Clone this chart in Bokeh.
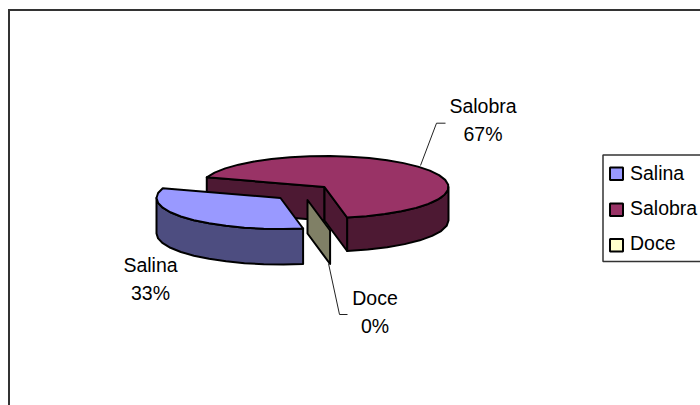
import math
from bokeh.plotting import figure
from bokeh.models import Range1d
from bokeh.core.properties import value
from bokeh.embed import file_html
from bokeh.resources import INLINE

categories = ["Salina", "Salobra", "Doce"]
shares = [33, 67, 0]
top_colors = ["#9999FF", "#993366", "#FFFFCC"]
side_colors = ["#4D4D80", "#4D1933", "#808066"]

FONT = value("Liberation Sans")
SIZE = value("19.5px")
TEXT_SHIFT = -7.0
CX, CY, A, B, DEPTH = 324, 186.5, 124, 31, 33.5
START = 161.7  # parametric angle where Salobra starts, going clockwise
OFFSETS = {"Salina": (-44, 11), "Salobra": (0, 0), "Doce": (-17, 13)}
SALINA_DEPTH = 35.5

p = figure(width=700, height=405, output_backend="svg", toolbar_location=None,
           x_range=Range1d(0, 700), y_range=Range1d(405, 0), min_border=0,
           outline_line_color=None, x_axis_type=None, y_axis_type=None)
p.grid.visible = False

def rim(t, off, dy=0.0):
    r = math.radians(t)
    return CX + off[0] + A * math.cos(r), CY + off[1] - B * math.sin(r) + dy

def arc(t1, t2, off, dy=0.0, step=9.0):
    n = max(1, int(abs(t2 - t1) / step))
    return [rim(t1 + (t2 - t1) * i / n, off, dy) for i in range(n + 1)]

def poly(pts, color):
    p.patch([q[0] for q in pts], [q[1] for q in pts], fill_color=color,
            line_color="#000000", line_width=2, line_join="round")

# angular extents from the shares
salobra_start = START
salobra_end = salobra_start - 3.6 * shares[1]
doce_end = salobra_end - 3.6 * shares[2]
salina_end = doce_end - 3.6 * shares[0]

# Salobra
off = OFFSETS["Salobra"]
apex = (CX + off[0], CY + off[1])
front = arc(0, salobra_end, off)
poly(front + [(x, y + DEPTH) for x, y in reversed(front)], side_colors[1])
a0 = rim(salobra_start, off)
poly([a0, apex, (apex[0], apex[1] + DEPTH), (a0[0], a0[1] + DEPTH)], side_colors[1])
a1 = rim(salobra_end, off)
poly([apex, a1, (a1[0], a1[1] + DEPTH), (apex[0], apex[1] + DEPTH)], side_colors[1])
poly([apex] + arc(salobra_start, salobra_end, off), top_colors[1])

# Doce: zero-size slice, only its wall shows
off = OFFSETS["Doce"]
apex = (CX + off[0], CY + off[1])
d = rim(doce_end, off)
poly([apex, d, (d[0], d[1] + DEPTH), (apex[0], apex[1] + DEPTH)], side_colors[2])

# Salina
off = OFFSETS["Salina"]
apex = (CX + off[0], CY + off[1])
front = arc(doce_end, -180, off)
poly(front + [(x, y + SALINA_DEPTH) for x, y in reversed(front)], side_colors[0])
poly([apex] + arc(doce_end, salina_end, off), top_colors[0])

# Chart frame (right and bottom edges fall outside the picture)
p.line([8, 700], [9.5, 9.5], line_color="#333333", line_width=2)
p.line([8.5, 8.5], [8.5, 405], line_color="#333333", line_width=2)

# Leader lines
p.line([420, 436, 445], [165, 122.7, 122.7], line_color="#222222", line_width=1)
p.line([328, 339, 347], [263, 314, 314], line_color="#222222", line_width=1)

# Data labels
label_x = [150, 482.5, 374.5]
name_y = [271, 112.7, 304.3]
pct_y = [299.3, 140.7, 332.7]
for c, s, x, y1, y2 in zip(categories, shares, label_x, name_y, pct_y):
    p.text([x], [y1 + TEXT_SHIFT], text=[c], text_font=FONT, text_font_size=SIZE, text_color="#000000",
           text_align="center", text_baseline="alphabetic")
    p.text([x], [y2 + TEXT_SHIFT], text=[f"{s}%"], text_font=FONT, text_font_size=SIZE, text_color="#000000",
           text_align="center", text_baseline="alphabetic")

# Legend
p.line([705, 602.5, 602.5, 705], [154.5, 154.5, 261, 261], line_color="#333333", line_width=1.5)
swatch_top = [167, 203, 238.5]
text_base = [179, 214, 249.3]
for c, col, t, b in zip(categories, top_colors, swatch_top, text_base):
    p.quad(left=[609.5], right=[622.5], top=[t], bottom=[t + 12.5], fill_color=col,
           line_color="#000000", line_width=2)
    p.text([629.5], [b + TEXT_SHIFT], text=[c], text_font=FONT, text_font_size=SIZE, text_color="#000000",
           text_align="left", text_baseline="alphabetic")

open("out.html", "w").write(file_html(p, INLINE))
